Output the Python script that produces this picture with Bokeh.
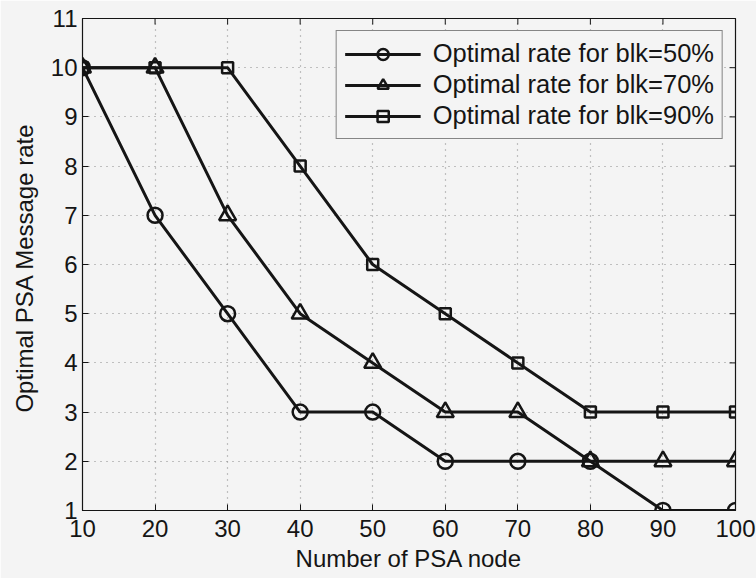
from bokeh.plotting import figure
from bokeh.models import Legend, LegendItem, FixedTicker, Range1d
from bokeh.embed import file_html
from bokeh.resources import INLINE

# Number of PSA nodes and optimal message rate per blocking level
nodes = [10, 20, 30, 40, 50, 60, 70, 80, 90, 100]
rate_blk50 = [10, 7, 5, 3, 3, 2, 2, 2, 1, 1]
rate_blk70 = [10, 10, 7, 5, 4, 3, 3, 2, 2, 2]
rate_blk90 = [10, 10, 10, 8, 6, 5, 4, 3, 3, 3]
series_labels = ["Optimal rate for blk=50%", "Optimal rate for blk=70%", "Optimal rate for blk=90%"]
x_ticks = [10, 20, 30, 40, 50, 60, 70, 80, 90, 100]
y_ticks = [1, 2, 3, 4, 5, 6, 7, 8, 9, 10, 11]

FONT = "Liberation Sans"
BG = "#f4f4f4"
INK = "#151515"

p = figure(width=756, height=578, output_backend="svg", toolbar_location=None,
           x_range=Range1d(x_ticks[0], x_ticks[-1]), y_range=Range1d(y_ticks[0], y_ticks[-1]),
           min_border_left=82, min_border_right=21, min_border_top=18, min_border_bottom=68)
p.background_fill_color = BG
p.border_fill_color = BG
p.outline_line_color = INK
p.outline_line_width = 1.2

for ax, tk in ((p.xaxis[0], x_ticks), (p.yaxis[0], y_ticks)):
    ax.ticker = FixedTicker(ticks=tk)
    ax.major_tick_in = 6
    ax.major_tick_out = 0
    ax.minor_tick_in = 0
    ax.minor_tick_out = 0
    ax.axis_line_color = INK
    ax.major_tick_line_color = INK
    ax.major_label_text_font = FONT
    ax.major_label_text_font_size = "24px"
    ax.major_label_text_color = INK
    ax.axis_label_text_font = FONT
    ax.axis_label_text_font_size = "24px"
    ax.axis_label_text_font_style = "normal"
    ax.axis_label_text_color = INK

p.xaxis.axis_label = "Number of PSA node"
p.xaxis.major_label_standoff = 9
p.xaxis.axis_label_standoff = 5
p.yaxis.axis_label = "Optimal PSA  Message rate"
p.yaxis.major_label_standoff = 5
p.yaxis.axis_label_standoff = 10

p.xgrid.ticker = FixedTicker(ticks=x_ticks)
p.ygrid.ticker = FixedTicker(ticks=y_ticks)
for g in (p.xgrid[0], p.ygrid[0]):
    g.grid_line_color = "#8a8a8a"
    g.grid_line_dash = "1 5"
    g.grid_line_width = 1.2

# inward tick marks along the top and right edges of the box
p.scatter(x_ticks, [y_ticks[-1]] * len(x_ticks), marker="dash", angle=1.5708,
          size=12, line_color=INK, line_width=1)
p.scatter([x_ticks[-1]] * len(y_ticks), y_ticks, marker="dash",
          size=12, line_color=INK, line_width=1)

items = []
series = [(rate_blk50, "circle", 15), (rate_blk70, "triangle", 17), (rate_blk90, "square", 11)]
for (vals, marker, size), label in zip(series, series_labels):
    ln = p.line(nodes, vals, line_color=INK, line_width=3)
    mk = p.scatter(nodes, vals, marker=marker, size=size, line_color=INK,
                   line_width=2.5, fill_color=None)
    items.append(LegendItem(label=label, renderers=[ln, mk]))

legend = Legend(items=items, location="top_right")
legend.margin = 12
legend.padding = 8
legend.spacing = 2
legend.glyph_width = 76
legend.glyph_height = 28
legend.label_height = 28
legend.label_standoff = 12
legend.label_text_font = FONT
legend.label_text_font_size = "25.5px"
legend.label_text_color = INK
legend.background_fill_color = BG
legend.background_fill_alpha = 1
legend.border_line_color = INK
legend.border_line_width = 1.2
p.add_layout(legend)

open("out.html", "w").write(file_html(p, INLINE))
